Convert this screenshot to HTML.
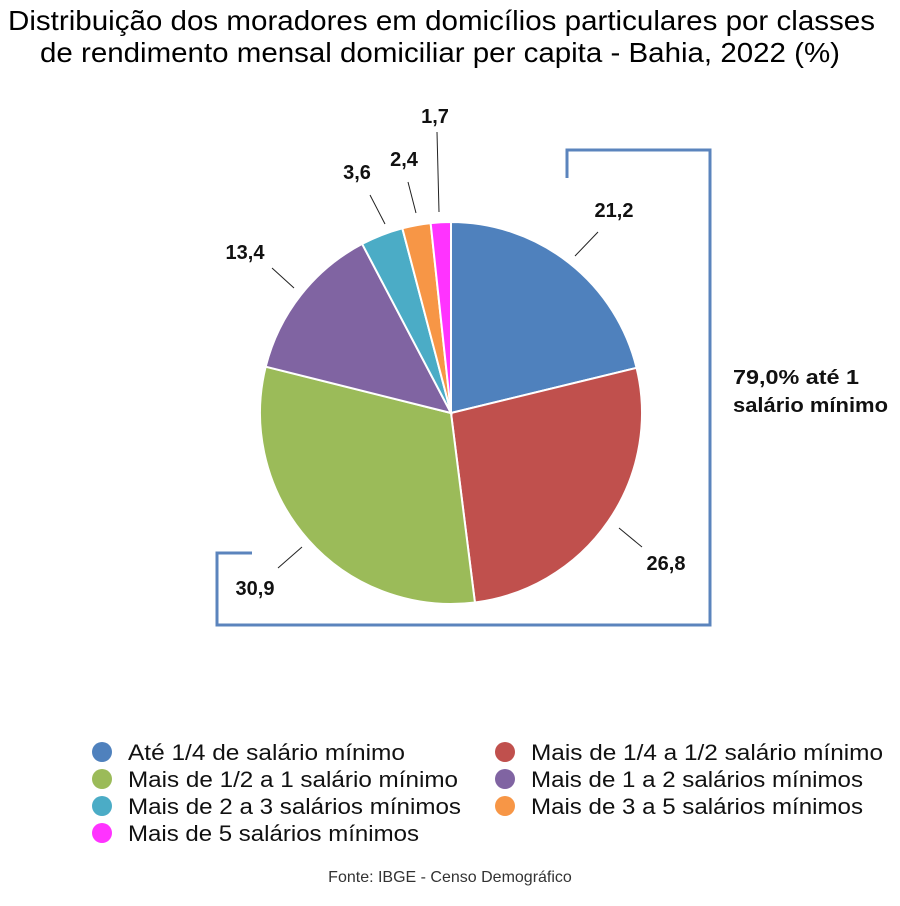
<!DOCTYPE html>
<html><head><meta charset="utf-8"><style>
body{margin:0;background:#fff;width:900px;height:901px;overflow:hidden;font-family:"Liberation Sans",sans-serif}
</style></head><body>
<svg id="s" width="900" height="901" xmlns="http://www.w3.org/2000/svg" font-family="Liberation Sans, sans-serif">
<text x="8" y="30" font-size="28" textLength="867" lengthAdjust="spacingAndGlyphs">Distribuição dos moradores em domicílios particulares por classes</text>
<text x="40" y="62" font-size="28" textLength="800" lengthAdjust="spacingAndGlyphs">de rendimento mensal domiciliar per capita - Bahia, 2022 (%)</text>
<g id="pie"></g>
<g stroke="#222" stroke-width="1">
<line x1="598" y1="232" x2="575" y2="256"/>
<line x1="619" y1="528" x2="642" y2="547"/>
<line x1="302" y1="547" x2="278" y2="568"/>
<line x1="272" y1="268" x2="294" y2="288"/>
<line x1="370" y1="195" x2="385" y2="224"/>
<line x1="408" y1="182" x2="416" y2="213"/>
<line x1="437" y1="132" x2="439" y2="212"/>
</g>
<g font-size="20" font-weight="bold" text-anchor="middle" fill="#111">
<text x="614" y="217">21,2</text>
<text x="666" y="570">26,8</text>
<text x="255" y="595">30,9</text>
<text x="245" y="259">13,4</text>
<text x="357" y="179">3,6</text>
<text x="404" y="166">2,4</text>
<text x="435" y="123">1,7</text>
</g>
<polyline points="567,178 567,150 710,150 710,625 217,625 217,553 252,553" fill="none" stroke="#5b84bd" stroke-width="3"/>
<g font-size="20.5" font-weight="bold" fill="#111">
<text x="733" y="384" textLength="126" lengthAdjust="spacingAndGlyphs">79,0% até 1</text>
<text x="733" y="412" textLength="155" lengthAdjust="spacingAndGlyphs">salário mínimo</text>
</g>
<g font-size="22" fill="#111" lengthAdjust="spacingAndGlyphs">
<circle cx="102" cy="752" r="10" fill="#4f81bd"/><text x="128" y="760" textLength="277" lengthAdjust="spacingAndGlyphs">Até 1/4 de salário mínimo</text>
<circle cx="505" cy="752" r="10" fill="#c0504d"/><text x="531" y="760" textLength="352" lengthAdjust="spacingAndGlyphs">Mais de 1/4 a 1/2 salário mínimo</text>
<circle cx="102" cy="779" r="10" fill="#9bbb59"/><text x="128" y="787" textLength="330" lengthAdjust="spacingAndGlyphs">Mais de 1/2 a 1 salário mínimo</text>
<circle cx="505" cy="779" r="10" fill="#8064a2"/><text x="531" y="787" textLength="332" lengthAdjust="spacingAndGlyphs">Mais de 1 a 2 salários mínimos</text>
<circle cx="102" cy="806" r="10" fill="#4bacc6"/><text x="128" y="814" textLength="333" lengthAdjust="spacingAndGlyphs">Mais de 2 a 3 salários mínimos</text>
<circle cx="505" cy="806" r="10" fill="#f79646"/><text x="531" y="814" textLength="332" lengthAdjust="spacingAndGlyphs">Mais de 3 a 5 salários mínimos</text>
<circle cx="102" cy="833" r="10" fill="#ff33ff"/><text x="128" y="841" textLength="291" lengthAdjust="spacingAndGlyphs">Mais de 5 salários mínimos</text>
</g>
<text x="450" y="882" text-anchor="middle" font-size="16" fill="#333">Fonte: IBGE - Censo Demográfico</text>
</svg>
<script>
var v=[21.2,26.8,30.9,13.4,3.6,2.4,1.7],c=["#4f81bd","#c0504d","#9bbb59","#8064a2","#4bacc6","#f79646","#ff33ff"];
var cx=451,cy=413,r=191,a=0,h="";
for(var i=0;i<v.length;i++){var b=a+v[i]/100*2*Math.PI;
var x1=cx+r*Math.sin(a),y1=cy-r*Math.cos(a),x2=cx+r*Math.sin(b),y2=cy-r*Math.cos(b);
h+='<path d="M'+cx+','+cy+'L'+x1+','+y1+'A'+r+','+r+' 0 '+(b-a>Math.PI?1:0)+' 1 '+x2+','+y2+'Z" fill="'+c[i]+'" stroke="#fff" stroke-width="2"/>';a=b;}
document.getElementById("pie").innerHTML=h;
</script>
</body></html>
